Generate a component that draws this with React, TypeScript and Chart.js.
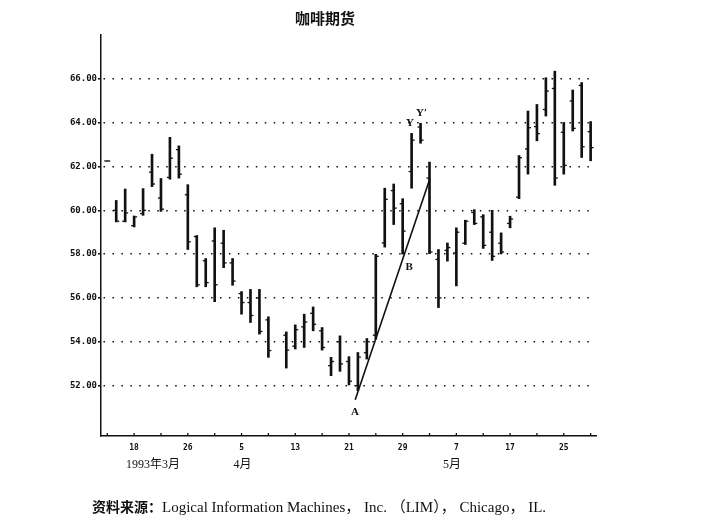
import React, { useEffect, useRef } from 'react';
import { Chart, registerables } from 'chart.js';

Chart.register(...registerables);

// trading days, 15 Mar - 28 May 1993 (4/9 Good Friday: no trading)
const tradingDays = [
  '3/15', '3/16', '3/17', '3/18', '3/19', '3/22', '3/23', '3/24', '3/25', '3/26',
  '3/29', '3/30', '3/31', '4/1', '4/2', '4/5', '4/6', '4/7', '4/8', '4/9',
  '4/12', '4/13', '4/14', '4/15', '4/16', '4/19', '4/20', '4/21', '4/22', '4/23',
  '4/26', '4/27', '4/28', '4/29', '4/30', '5/3', '5/4', '5/5', '5/6', '5/7',
  '5/10', '5/11', '5/12', '5/13', '5/14', '5/17', '5/18', '5/19', '5/20', '5/21',
  '5/24', '5/25', '5/26', '5/27', '5/28',
];

const highs = [
  62.25, 60.45, 60.97, 59.74, 60.99, 62.56, 61.45, 63.33, 62.94, 61.17,
  58.85, 57.8, 59.2, 59.09, 57.8, 56.29, 56.39, 56.39, 55.14, null,
  54.45, 54.77, 55.26, 55.59, 54.65, 53.29, 54.27, 53.32, 53.51, 54.15,
  57.99, 61.01, 61.2, 60.53, 63.51, 63.97, 62.2, 58.21, 58.51, 59.2,
  59.55, 60.03, 59.8, 60.0, 58.97, 59.73, 62.5, 64.53, 64.83, 66.05,
  66.35, 64.01, 65.49, 65.83, 64.05,
];
const lows = [
  62.25, 59.47, 59.47, 59.24, 59.77, 61.08, 59.95, 61.42, 61.47, 58.21,
  56.51, 56.51, 55.83, 57.38, 56.58, 55.26, 54.88, 54.35, 53.29, null,
  52.8, 53.67, 53.74, 54.5, 53.62, 52.45, 52.65, 52.03, 51.77, 53.21,
  54.12, 58.32, 59.35, 58.0, 61.01, 63.06, 58.02, 55.56, 57.68, 56.55,
  58.44, 59.35, 58.26, 57.71, 58.01, 59.2, 60.53, 61.65, 63.17, 64.3,
  61.14, 61.65, 63.62, 62.41, 62.26,
];
const opens = [
  62.25, 60.0, 59.5, 59.3, 59.85, 61.74, 60.56, 61.5, 62.77, 60.71,
  58.8, 57.7, 58.6, 58.5, 57.6, 56.2, 55.79, 56.0, 55.0, null,
  54.3, 53.8, 54.68, 55.3, 54.5, 52.91, 54.0, 53.1, 52.0, 53.5,
  54.3, 58.51, 60.9, 60.3, 61.77, 63.8, 61.47, 57.76, 58.17, 58.06,
  58.5, 59.9, 59.7, 59.0, 58.5, 59.4, 60.6, 62.8, 63.82, 64.6,
  65.56, 63.56, 64.99, 65.7, 63.59,
];
const closes = [
  62.25, 59.5, 59.88, 59.7, 60.0, 61.2, 60.05, 62.38, 61.65, 58.56,
  56.6, 56.7, 56.6, 57.6, 56.77, 55.79, 55.2, 54.47, 53.6, null,
  53.62, 54.55, 54.9, 54.8, 53.74, 53.1, 52.99, 52.2, 53.3, 54.0,
  57.9, 60.5, 60.1, 59.05, 63.2, 63.2, 58.1, 56.0, 58.3, 59.0,
  59.5, 59.4, 58.4, 57.9, 58.1, 59.6, 62.4, 63.77, 63.5, 65.44,
  61.47, 62.05, 63.74, 62.9, 62.86,
];

// axis labels
const priceTicks = [52, 54, 56, 58, 60, 62, 64, 66];
const dayTickDates = ['3/18', '3/26', '4/5', '4/13', '4/21', '4/29', '5/7', '5/17', '5/25'];
const monthLabels = ['1993年3月', '4月', '5月'];
const monthLabelAt = [5.1, 15.1, 38.5];

// A-B trend line and pattern letters
const trendX = [27.7, 36.05];
const trendY = [51.35, 61.45];
const markerLabels = ['A', 'B', 'Y', 'Y′'];
const markerX = [27.67, 33.73, 33.81, 35.1];
const markerY = [50.79, 57.42, 63.97, 64.42];

const INK = '#111';

const overlay = {
  id: 'overlay',
  afterDraw(chart: any) {
    const { ctx, chartArea, scales } = chart;
    const xs = scales.x;
    const ys = scales.y;
    ctx.save();
    // small ticks pointing up into the plot
    ctx.strokeStyle = INK;
    ctx.lineWidth = 1.3;
    xs.ticks.forEach((t: any) => {
      const px = xs.getPixelForValue(t.value);
      ctx.beginPath();
      ctx.moveTo(px, chartArea.bottom);
      ctx.lineTo(px, chartArea.bottom - 3);
      ctx.stroke();
    });
    ctx.fillStyle = INK;
    ctx.textAlign = 'center';
    ctx.textBaseline = 'middle';
    ctx.font = '12px "Liberation Serif", "Noto Sans CJK SC", serif';
    monthLabels.forEach((m, k) => {
      ctx.fillText(m, xs.getPixelForValue(monthLabelAt[k]), chartArea.bottom + 29);
    });
    ctx.font = 'bold 11px "Liberation Serif", serif';
    markerLabels.forEach((m, k) => {
      ctx.fillText(m, xs.getPixelForValue(markerX[k]), ys.getPixelForValue(markerY[k]));
    });
    ctx.restore();
  },
};

const CoffeeChart: React.FC = () => {
  const canvasRef = useRef<HTMLCanvasElement>(null);

  useEffect(() => {
    const ctx = canvasRef.current?.getContext('2d');
    if (!ctx) return;

    const idx = tradingDays.map((_, i) => i).filter((i) => highs[i] !== null);
    const rangeData = idx.map((i) => ({ x: i, y: [lows[i], highs[i]] }));
    const openData = idx.map((i) => ({ x: i, y: opens[i] }));
    const closeData = idx.map((i) => ({ x: i, y: closes[i] }));
    const trendData = trendX.map((x, k) => ({ x, y: trendY[k] }));
    const dayTickIdx = dayTickDates.map((d) => tradingDays.indexOf(d));

    const chart = new Chart(ctx, {
      type: 'bar',
      data: {
        datasets: [
          {
            type: 'bar',
            data: rangeData as any,
            backgroundColor: INK,
            barThickness: 2,
            borderWidth: 0,
          },
          {
            type: 'line',
            data: openData,
            showLine: false,
            pointStyle: 'dash',
            rotation: 180,
            pointRadius: 3,
            pointBorderWidth: 1.3,
            pointBorderColor: INK,
          },
          {
            type: 'line',
            data: closeData,
            showLine: false,
            pointStyle: 'dash',
            rotation: 0,
            pointRadius: 3,
            pointBorderWidth: 1.3,
            pointBorderColor: INK,
          },
          {
            type: 'line',
            data: trendData,
            borderColor: INK,
            borderWidth: 1.6,
            pointRadius: 0,
          },
        ] as any,
      },
      options: {
        animation: false,
        responsive: false,
        layout: { padding: { left: 0, top: 35, right: 109, bottom: 0 } },
        plugins: { legend: { display: false }, tooltip: { enabled: false } },
        scales: {
          x: {
            type: 'linear',
            offset: false,
            min: -0.7,
            max: 54.6,
            afterBuildTicks: (s: any) => {
              s.ticks = tradingDays.map((_, i) => i).filter((i) => i % 3 === 0).map((v) => ({ value: v }));
            },
            afterFit: (s: any) => {
              s.height = 84;
            },
            grid: { display: false, drawTicks: false },
            border: { display: true, color: INK, width: 1.5 },
            ticks: {
              autoSkip: false,
              maxRotation: 0,
              padding: 7,
              color: INK,
              font: { family: '"DejaVu Sans Mono", monospace', size: 8, weight: 'bold' },
              callback: (v: any) => {
                const k = dayTickIdx.indexOf(Number(v));
                return k >= 0 ? dayTickDates[k].split('/')[1] : '';
              },
            },
          },
          y: {
            type: 'linear',
            min: 49.7,
            max: 68,
            afterBuildTicks: (s: any) => {
              s.ticks = priceTicks.map((v) => ({ value: v }));
            },
            afterFit: (s: any) => {
              s.width = 101;
            },
            grid: {
              color: INK,
              lineWidth: 1.5,
              tickLength: 3,
              tickColor: INK,
              tickWidth: 1.3,
            },
            border: { display: true, color: INK, width: 1.5, dash: [1.5, 7.46], dashOffset: -2 },
            ticks: {
              padding: 1,
              color: INK,
              font: { family: '"DejaVu Sans Mono", monospace', size: 9, weight: 'bold' },
              callback: (v: any) => Number(v).toFixed(2),
            },
          },
        },
      },
      plugins: [overlay],
    });

    return () => {
      chart.destroy();
    };
  }, []);

  return <canvas ref={canvasRef} width={705} height={520}></canvas>;
};

export default function App() {
  return (
    <div style={{ position: 'absolute', left: 0, top: 0, width: 705, height: 520, background: '#fff' }}>
      <CoffeeChart />
      <div
        style={{
          position: 'absolute',
          left: 325,
          top: 8,
          transform: 'translateX(-50%)',
          font: 'bold 15px "Noto Sans CJK SC", sans-serif',
          lineHeight: '20px',
          color: INK,
          whiteSpace: 'nowrap',
        }}
      >
        咖啡期货
      </div>
      <div
        style={{
          position: 'absolute',
          left: 92,
          top: 495,
          lineHeight: '20px',
          color: INK,
          whiteSpace: 'nowrap',
        }}
      >
        <span style={{ font: 'bold 14px "Noto Sans CJK SC", sans-serif' }}>资料来源：</span>
        <span style={{ font: '15px "Liberation Serif", "Noto Sans CJK SC", serif' }}>
          Logical Information Machines， Inc. （LIM）， Chicago， IL.
        </span>
      </div>
    </div>
  );
}
